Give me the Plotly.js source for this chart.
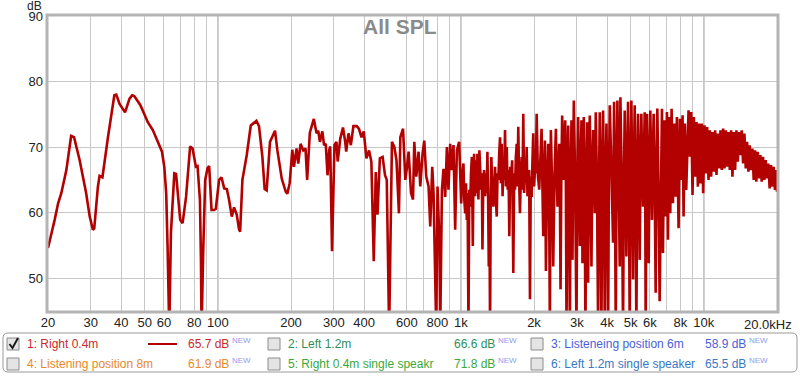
<!DOCTYPE html>
<html><head><meta charset="utf-8">
<script src="https://cdn.plot.ly/plotly-3.0.1.min.js"></script>
<style>html,body{margin:0;padding:0;background:#fff}#chart{width:800px;height:376px}</style>
</head><body><div id="chart"></div>
<script>
// ---- Data ----
const freqLow = [20,21.3,22.0,22.7,23.8,24.9,25.6,27.0,28.7,29.7,30.6,31.0,32.1,32.6,33.5,35.3,37.5,38.2,39.4,41.5,43.3,44.4,45.3,48.0,51.5,54.0,56.6,58.9,60.2,61.3,62.1,63.1,64.1,66.2,67.3,70.0,71.6,74.0,76.9,78.7,81.2,82.5,84.4,85.2,85.7,87.0,88.7,90.7,92.1,94.2,96.5,98.1,101.2,103.5];
const splLow  = [54.6,58.9,61.4,63.0,66.5,71.7,71.5,68.0,63.0,59.4,57.4,57.6,64.0,65.6,65.4,71.5,77.9,78.0,76.6,75.3,77.4,77.9,77.8,76.4,73.8,72.6,70.8,69.3,67.0,63.0,54.9,42,56.9,66.0,65.9,58.9,58.4,62.4,70.1,69.8,67.0,67.1,61.9,52.8,42,53.8,65.0,66.8,67.1,60.4,60.4,60.6,65.0,65.4];

const freqMid = [106.2,108.9,111.3,114.1,116.6,119.6,122.3,123.5,126.2,131.5,136.6,140.9,144.1,147.7,152.5,155.8,158.8,163.9,171.9,175.8,183.2,190.2,193.2,197.5,202.5,205.6,210.9,214.2,219.0,224.6,229.5,233.1,239.1,248.3,254.8,258.9,263.0,269.2,273.5,278.0,282.7,287.1,290.0,295.1,301.9,307.6,311.3,319.0,327.3,334.3,337.5,344.8,352.6,361.3,372.6,380.6,390.2,398.6,402.4,408.8,419.0,428.3,438.1,446.6,453.9,464.2,476.5,487.5,495.6,506.8,520.6,532.6,543.4,556.2];
const splMid  = [63.7,63.6,61.9,59.4,60.8,59.7,57.4,57.1,65.0,68.8,73.3,73.7,74.0,73.2,68.5,63.6,63.4,70.8,72.5,69.5,65.2,63.2,62.9,64.5,69.6,67.0,69.8,67.5,70.5,69.5,69.8,65.0,72.2,74.3,72.1,72.5,70.8,72.4,70.3,70.5,65.7,69.5,70.1,54.1,70.3,70.8,67.8,71.3,73.0,70.8,69.3,72.1,70.3,73.2,73.2,72.8,71.5,72.4,70.8,68.3,69.5,67.8,52.6,66.2,59.7,68.3,68.5,65.7,65.0,42,70.8,70.0,68.0,59.9];

const freqUpper = [563.6,578.2,590.9,600.4,609.6,623.6,635.5,643.3,655.6,670.0,680.8,695.8,707.0,720.6,736.4,748.3,762.6,772.0,784.5,791.9,801.7,817.0,822.4,835.8,848.5,862.3,876.2,889.5,904.0,918.6,932.6,947.7,963.0,984.2,1003,1014,1025,1033,1042,1050,1058,1066,1075,1083,1092,1101,1110,1115,1120,1127,1134,1145,1156,1163,1170,1181,1192,1202,1212,1220,1227,1236,1246,1258,1270,1278,1286,1295,1303,1311,1319,1327,1335,1348,1361,1372,1383,1394,1405,1416,1427,1438,1450,1461,1473,1485,1496,1508,1520,1532,1545,1552,1559,1571,1583,1596,1609,1626,1644,1657,1671,1684,1698,1710,1723,1737,1751,1765,1780,1793,1807,1821,1836,1851,1866,1880,1894,1910,1925,1940,1956,1971,1986,2002,2018,2035,2051,2076];
const splUpper  = [71.5,72.8,65.0,67.0,69.3,63.0,62.0,70.8,65.5,69.3,64.0,69.0,71.0,65.5,64.0,57.9,67.0,63.0,49.8,42,64.0,54.9,42,63.5,66.7,62.4,70.0,63.5,70.5,66.5,70.3,57.4,69.5,70.8,61.4,66.0,67.5,62.0,59.9,64.5,58.9,63.0,42,63.5,60.9,66.0,68.5,62.0,54.9,66.0,69.0,62.5,68.0,63.0,69.0,62.0,69.5,66.5,63.5,66.0,54.4,64.0,66.5,62.5,66.0,63.0,69.3,62.0,51.8,60.0,42,63.0,68.5,63.5,60.9,64.0,67.0,62.0,59.4,66.0,65.0,69.0,71.5,64.5,70.5,62.5,67.5,65.0,72.6,64.0,70.0,66.0,63.5,66.5,56.4,67.0,64.5,68.0,50.8,66.0,63.5,68.5,70.5,64.0,73.1,65.0,59.9,65.5,68.5,63.5,75.1,63.0,66.0,64.5,70.0,62.5,64.0,66.5,46.8,65.5,62.4,68.0,72.1,64.0,66.5,66.0,75.1,65.5];

const freqHigh = [2102,2125,2149,2166,2183,2200,2218,2228,2239,2264,2289,2307,2325,2336,2347,2373,2399,2430,2461,2480,2500,2520,2539,2555,2572,2592,2612,2633,2654,2671,2688,2705,2722,2743,2765,2787,2809,2831,2853,2866,2880,2898,2917,2954,2991,3015,3039,3063,3087,3111,3136,3151,3166,3186,3206,3231,3257,3283,3309,3324,3340,3366,3393,3420,3447,3474,3502,3530,3558,3574,3591,3631,3672,3701,3730,3759,3789,3819,3849,3880,3911,3942,3973,4004,4036,4068,4100,4165,4231,4251,4271,4305,4339,4373,4408,4457,4507,4521,4535,4593,4651,4688,4725,4762,4800,4838,4876,4914,4953,4992,5032,5072,5112,5152,5193,5234,5276,5318,5360,5402,5445,5488,5531,5575,5619,5663,5708,5735,5763,5800,5836,5882,5928,5975,6022,6070,6118,6166,6215,6274,6334,6384,6435,6506,6578];
const splHigh  = [63.5,68.2,72.8,64.1,56.4,65.8,71.0,63.6,51.1,64.4,70.5,63.2,42,62.8,72.6,64.5,51.8,66.0,72.8,65.2,60.9,67.1,70.5,64.0,48.3,66.3,74.8,69.0,65.0,70.4,74.1,64.2,42,65.5,73.3,63.8,42,64.7,74.1,66.0,52.8,67.3,77.1,64.8,42,66.4,74.6,65.1,54.9,66.9,74.1,64.6,52.3,65.7,74.6,63.5,42,64.9,73.8,63.2,49.3,65.4,74.8,64.9,51.8,66.1,72.6,66.8,59.9,68.0,75.3,64.6,42,63.9,75.3,64.2,42,65.0,75.6,64.5,42,64.8,73.6,64.0,42,65.6,76.4,66.4,55.4,67.2,76.9,64.5,42,66.1,77.1,65.5,51.8,66.7,77.6,64.8,42,65.1,75.6,65.9,53.3,66.8,76.9,65.0,42,66.3,77.1,65.7,49.8,67.0,76.4,64.3,42,65.6,75.1,66.2,52.8,67.4,75.1,67.3,60.9,68.1,75.3,64.9,42,66.5,75.1,66.1,52.3,67.0,75.6,67.5,58.9,68.3,75.1,64.6,47.8,66.8,75.9,63.9,46.5];

const freqTop = [6724,6788,6874,6961,7049,7116,7207,7275,7367,7461,7556,7651,7748,7871,7971,8072,8174,8252,8356,8462,8651,8761,8872,8984,9098,9213,9330,9448,9568,9690,9812,9937,10063,10191,10320,10451,10583,10717,10853,10991,11130,11271,11414,11559,11706,11854,12004,12157,12311,12467,12625,12785,12948,13112,13278,13446,13617,13790,13964,14142,14321,14503,14687,14873,15061,15252,15443,15640,15838,16039,16242,16447,16656,16867,17081,17298,17517,17739,17964,18191,18422,18656,18892,19131,19374,19620,19869,20000];
const splTop  = [75.85,53.85,74.08,59.41,75.35,55.87,74.59,59.92,75.85,61.44,73.58,62.45,74.59,57.64,74.33,64.98,74.84,59.41,73.58,63.46,75.6,68.52,75.35,62.7,74.59,65.48,73.83,63.97,73.58,64.47,73.58,62.95,73.32,65.99,73.07,64.98,72.57,65.48,72.31,66.24,72.57,65.74,72.06,66.75,72.57,66.5,72.82,66.75,72.57,67.0,72.31,66.5,72.57,65.48,72.31,66.5,72.57,67.76,72.31,68.77,72.57,67.5,72.06,66.75,70.8,66.24,70.29,66.5,69.78,64.98,69.53,64.72,69.28,65.23,68.77,64.72,68.52,64.98,68.01,65.23,67.5,63.71,67.25,63.97,67.0,63.46,66.5,63.2];

const xTickVals = [20,30,40,50,60,80,100,200,300,400,600,800,1000,2000,3000,4000,5000,6000,8000,10000,20000];
const xTickText = ['20','30','40','50','60','80','100','200','300','400','600','800','1k','2k','3k','4k','5k','6k','8k','10k',''];
const xMinorVals = [70,90,700,900,7000,9000];
const xDecades = [100,1000,10000];
const yTickVals = [50,60,70,80,90];

const legendNames  = ['1: Right 0.4m','2: Left 1.2m','3: Listeneing position 6m','4: Listening position 8m','5: Right 0.4m single speakr','6: Left 1.2m single speaker'];
const legendValues = ['65.7','66.6','58.9','61.9','71.8','65.5'];
const legendColors = ['#c42b2b','#2f8f5a','#4a5fd6','#e8892a','#3aa83a','#3a78c4'];
const legendChecked = [true,false,false,false,false,false];

// ---- Layout helpers ----
const L=48, R=777, T=16, B=311;
const px = x => (x-L)/(R-L);
const py = y => (B-y)/(B-T);

const freq = freqLow.concat(freqMid, freqUpper, freqHigh, freqTop);
const spl  = splLow.concat(splMid, splUpper, splHigh, splTop);

const trace = {
  x: freq, y: spl, type: 'scatter', mode: 'lines',
  line: {color: '#b30000', width: 2.6, simplify: false},
  hoverinfo: 'skip', showlegend: false
};

const shapes = [];
const annotations = [];

xDecades.forEach(f => shapes.push({type:'line', xref:'x', yref:'paper', x0:f, x1:f, y0:0, y1:1, line:{color:'#7a7a7a', width:1}, layer:'below'}));
shapes.push({type:'rect', xref:'paper', yref:'paper', x0:px(L-1), x1:px(R+1), y0:py(B+1), y1:py(T-1), line:{color:'#b4b4b4', width:3}, layer:'above'});

(function(){
  const x0=3,x1=797,y0=333,y1=372,r=5;
  const X=v=>px(v), Y=v=>py(v);
  const path = `M ${X(x0+r)} ${Y(y0)} L ${X(x1-r)} ${Y(y0)} Q ${X(x1)} ${Y(y0)} ${X(x1)} ${Y(y0+r)} L ${X(x1)} ${Y(y1-r)} Q ${X(x1)} ${Y(y1)} ${X(x1-r)} ${Y(y1)} L ${X(x0+r)} ${Y(y1)} Q ${X(x0)} ${Y(y1)} ${X(x0)} ${Y(y1-r)} L ${X(x0)} ${Y(y0+r)} Q ${X(x0)} ${Y(y0)} ${X(x0+r)} ${Y(y0)} Z`;
  shapes.push({type:'path', xref:'paper', yref:'paper', path, line:{color:'#9a9a9a', width:1}, fillcolor:'rgba(0,0,0,0)'});
})();

const checkLeft = [7, 268, 531];
const valueRight = [231, 497, 748];
const rowY = [344, 364];
const legFont = 'Liberation Sans, Arial, sans-serif';

legendNames.forEach((name, k) => {
  const col = k % 3, row = Math.floor(k / 3);
  const cx = checkLeft[col], cy = rowY[row];
  shapes.push({type:'rect', xref:'paper', yref:'paper', x0:px(cx), x1:px(cx+12), y0:py(cy+6), y1:py(cy-6), line:{color:'#8c8c8c', width:1}, fillcolor:'#e4e4e4'});
  if (legendChecked[k]) {
    shapes.push({type:'path', xref:'paper', yref:'paper', path:`M ${px(cx+2.5)} ${py(cy)} L ${px(cx+5.5)} ${py(cy+4)} L ${px(cx+11)} ${py(cy-6)}`, line:{color:'#1a1a1a', width:2}});
    shapes.push({type:'line', xref:'paper', yref:'paper', x0:px(148), x1:px(177), y0:py(cy), y1:py(cy), line:{color:'#b30000', width:2}});
  }
  annotations.push({xref:'paper', yref:'paper', x:px(cx+18), y:py(cy), xanchor:'left', yanchor:'middle', showarrow:false, text:name, font:{family:legFont, size:12, color:legendColors[k]}});
  annotations.push({xref:'paper', yref:'paper', x:px(valueRight[col]), y:py(cy), xanchor:'right', yanchor:'middle', showarrow:false, text:legendValues[k] + ' dB', font:{family:legFont, size:12, color:legendColors[k]}});
  annotations.push({xref:'paper', yref:'paper', x:px(valueRight[col]-1), y:py(cy-4), xanchor:'left', yanchor:'middle', showarrow:false, text:'NEW', font:{family:legFont, size:8, color:'#8d9cf0'}});
});

annotations.push({xref:'paper', yref:'paper', x:px(34), y:py(6), xanchor:'center', yanchor:'middle', borderpad:0, showarrow:false, text:'dB', font:{family:legFont, size:12, color:'#222'}});
annotations.push({xref:'paper', yref:'paper', x:px(794), y:py(324), xanchor:'right', yanchor:'middle', showarrow:false, text:'20.0kHz', font:{family:legFont, size:13, color:'#222'}});
annotations.push({xref:'paper', yref:'paper', x:px(400), y:py(26), xanchor:'center', yanchor:'middle', showarrow:false, text:'<b>All SPL</b>', font:{family:legFont, size:21, color:'#8a8a8a'}});

const layout = {
  width: 800, height: 376,
  margin: {l: L, r: 800-R, t: T, b: 376-B},
  paper_bgcolor: '#ffffff', plot_bgcolor: '#ffffff',
  showlegend: false,
  xaxis: {
    type: 'log', range: [Math.log10(20), Math.log10(20000)],
    tickmode: 'array', tickvals: xTickVals, ticktext: xTickText,
    showgrid: true, gridcolor: '#c8c8c8', gridwidth: 1,
    minor: {tickmode: 'array', tickvals: xMinorVals, showgrid: true, gridcolor: '#c8c8c8', gridwidth: 1, ticks: ''},
    ticks: '', showline: false, zeroline: false, ticklabelstandoff: 2,
    tickfont: {family: legFont, size: 13, color: '#222'}
  },
  yaxis: {
    range: [45, 90], tickmode: 'array', tickvals: yTickVals,
    showgrid: true, gridcolor: '#c8c8c8', gridwidth: 1,
    ticks: '', showline: false, zeroline: false, ticklabelstandoff: 4,
    tickfont: {family: legFont, size: 13, color: '#222'}
  },
  shapes, annotations
};

Plotly.newPlot('chart', [trace], layout, {staticPlot: true, displayModeBar: false});
</script></body></html>
